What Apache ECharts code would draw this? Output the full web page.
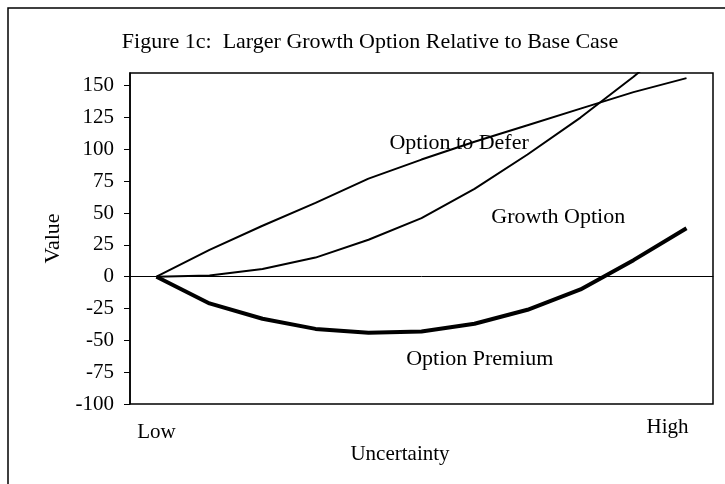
<!DOCTYPE html>
<html>
<head>
<meta charset="utf-8">
<script src="https://cdn.jsdelivr.net/npm/echarts@6/dist/echarts.min.js"></script>
<style>
  html, body { margin: 0; padding: 0; background: #fff; }
  #main { width: 725px; height: 484px; }
</style>
</head>
<body>
<div id="main"></div>
<script>
var categories = ['Low', '', '', '', '', '', '', '', '', '', 'High'];
var optionToDefer = [0, 21, 40, 58, 77, 92, 106, 119, 132, 145, 156];
var growthOption = [0, 1, 6, 15, 29, 46, 69, 96, 125, 157, 192];
var optionPremium = [0, -21, -33, -41, -44, -43, -37, -26, -10, 13, 38];
var yTicks = [-100, -75, -50, -25, 0, 25, 50, 75, 100, 125, 150];

// curve labels: [text, category index, value]
var curveLabels = [
  ['Option to Defer', 5.71, 105],
  ['Growth Option', 7.58, 47],
  ['Option Premium', 6.1, -65]
];

var serif = '"Liberation Serif", "DejaVu Serif", serif';
var chart = echarts.init(document.getElementById('main'));

var option = {
  backgroundColor: '#fff',
  animation: false,
  title: {
    text: 'Figure 1c:  Larger Growth Option Relative to Base Case',
    left: 365,
    textAlign: 'center',
    top: 26,
    textStyle: { fontFamily: serif, fontSize: 22, fontWeight: 'normal', color: '#000' }
  },
  grid: {
    left: 130,
    right: 12,
    top: 73,
    bottom: 80,
    show: true,
    borderColor: '#000',
    borderWidth: 1.5
  },
  xAxis: {
    type: 'category',
    data: categories,
    boundaryGap: true,
    axisLine: { onZero: true, lineStyle: { color: '#000', width: 1 } },
    axisTick: { show: false },
    axisLabel: { show: false }
  },
  yAxis: {
    type: 'value',
    min: -100,
    max: 160,
    interval: 25,
    name: 'Value',
    nameLocation: 'middle',
    nameGap: 66,
    nameTextStyle: { fontFamily: serif, fontSize: 22, color: '#000' },
    splitLine: { show: false },
    axisLine: { show: true, onZero: false, lineStyle: { color: '#000', width: 1.5 } },
    axisTick: { show: true, length: 6, lineStyle: { color: '#000' }, customValues: yTicks },
    axisLabel: {
      fontFamily: serif,
      fontSize: 21,
      color: '#000',
      margin: 16,
      customValues: yTicks
    }
  },
  series: [
    {
      name: 'Option to Defer',
      type: 'line',
      data: optionToDefer,
      symbol: 'none',
      lineStyle: { color: '#000', width: 2 }
    },
    {
      name: 'Growth Option',
      type: 'line',
      data: growthOption,
      symbol: 'none',
      lineStyle: { color: '#000', width: 2 }
    },
    {
      name: 'Option Premium',
      type: 'line',
      data: optionPremium,
      symbol: 'none',
      lineStyle: { color: '#000', width: 4 }
    }
  ]
};

chart.setOption(option);

// category axis snaps to whole indices, so interpolate between neighbours
function toPixel(idx, val) {
  var i0 = Math.floor(idx);
  var a = chart.convertToPixel({ gridIndex: 0 }, [i0, val]);
  var b = chart.convertToPixel({ gridIndex: 0 }, [i0 + 1, val]);
  return [a[0] + (b[0] - a[0]) * (idx - i0), a[1]];
}

var graphics = [
  {
    type: 'rect',
    shape: { x: 8, y: 8, width: 800, height: 600 },
    style: { fill: 'none', stroke: '#000', lineWidth: 1.5 },
    silent: true
  }
];
curveLabels.forEach(function (c) {
  var p = toPixel(c[1], c[2]);
  graphics.push({
    type: 'text',
    x: p[0],
    y: p[1],
    style: {
      text: c[0],
      fontFamily: serif,
      fontSize: 22,
      fill: '#000',
      align: 'center',
      verticalAlign: 'middle'
    }
  });
});
var pLow = chart.convertToPixel({ gridIndex: 0 }, [0, -100]);
var pHigh = chart.convertToPixel({ gridIndex: 0 }, [10, -100]);
graphics.push({
  type: 'text', x: pLow[0], y: pLow[1] + 28,
  style: { text: 'Low', fontFamily: serif, fontSize: 21, fill: '#000', align: 'center', verticalAlign: 'middle' }
});
graphics.push({
  type: 'text', x: pHigh[0] - 19, y: pHigh[1] + 23,
  style: { text: 'High', fontFamily: serif, fontSize: 21, fill: '#000', align: 'center', verticalAlign: 'middle' }
});
graphics.push({
  type: 'text', x: 400, y: pLow[1] + 50,
  style: { text: 'Uncertainty', fontFamily: serif, fontSize: 21, fill: '#000', align: 'center', verticalAlign: 'middle' }
});
chart.setOption({ graphic: graphics });
</script>
</body>
</html>
